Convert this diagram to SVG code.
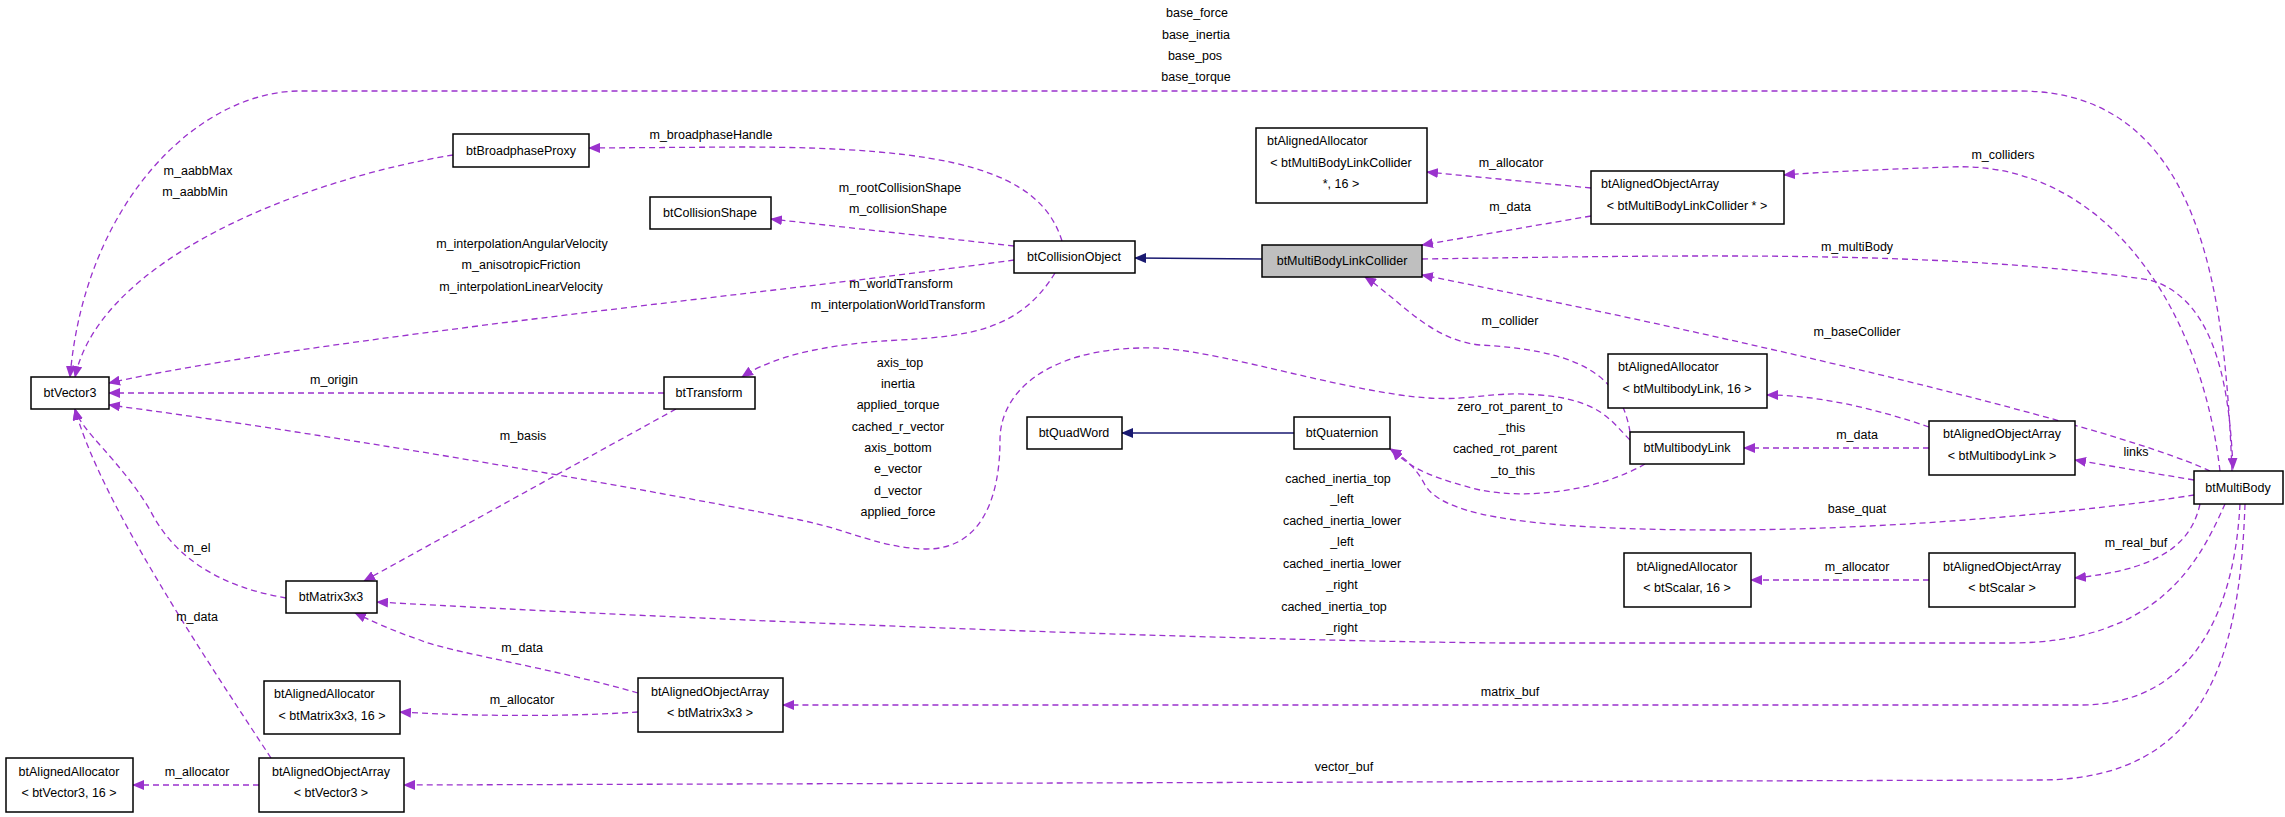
<svg xmlns="http://www.w3.org/2000/svg" width="2285" height="817" viewBox="0 0 2285 817">
<style>
text{font-family:"Liberation Sans",Arial,sans-serif;font-size:12.5px;fill:#000}
.c{text-anchor:middle}
.n rect{fill:#fff;stroke:#000;stroke-width:1.5}
.e{fill:none;stroke:#9a32cd;stroke-width:1.3;stroke-dasharray:6,4;marker-end:url(#ap)}
.s{fill:none;stroke:#191970;stroke-width:1.3;marker-end:url(#an)}
</style>
<defs>
<marker id="ap" markerWidth="12" markerHeight="10" refX="11" refY="5" orient="auto" markerUnits="userSpaceOnUse"><path d="M0,0L12,5L0,10z" fill="#9a32cd"/></marker>
<marker id="an" markerWidth="12" markerHeight="10" refX="11" refY="5" orient="auto" markerUnits="userSpaceOnUse"><path d="M0,0L12,5L0,10z" fill="#191970"/></marker>
</defs>
<rect width="2285" height="817" fill="#fff"/>
<g id="connectors">
<path class="e" d="M2232,471 C2225,300 2205,91 2020,91 L300,91 C200,91 85,200 70,377"/>
<path class="e" d="M453,155 C300,180 100,260 75,377"/>
<path class="e" d="M1062,241 C1040,170 950,147 740,147 L589,148"/>
<path class="e" d="M1014,246 L771,219"/>
<path class="e" d="M1014,260 C800,290 300,340 109,383"/>
<path class="e" d="M1055,273 C1020,330 970,336 900,340 C800,345 760,365 742,377"/>
<path class="e" d="M664,393 L109,393"/>
<path class="e" d="M676,409 L364,581"/>
<path class="e" d="M286,598 C240,590 180,570 150,510 C120,460 80,430 75,409"/>
<path class="e" d="M271,758 C200,650 100,500 75,409"/>
<path class="e" d="M259,785 L133,785"/>
<path class="e" d="M638,693 C560,670 440,650 420,640 C390,630 370,620 355,613"/>
<path class="e" d="M638,712 C550,718 450,715 400,712"/>
<path class="e" d="M1630,440 C1610,420 1600,400 1540,395 C1480,390 1470,405 1400,395 C1300,380 1200,345 1140,348 C1050,350 1000,390 1000,440 C1000,500 980,550 925,549 C880,548 850,530 800,520 C600,480 300,430 109,405"/>
<path class="s" d="M1294,433 L1122,433"/>
<path class="s" d="M1262,259 L1135,258"/>
<path class="e" d="M1645,464 C1600,490 1530,500 1480,490 C1440,480 1410,470 1392,449"/>
<path class="e" d="M2194,495 C2100,510 1900,530 1720,530 C1500,530 1440,510 1425,485 C1415,465 1400,455 1390,449"/>
<path class="e" d="M1630,432 C1620,370 1570,350 1480,345 C1430,340 1400,300 1365,277"/>
<path class="e" d="M1591,216 L1422,245"/>
<path class="e" d="M1591,188 L1427,172"/>
<path class="e" d="M2220,471 C2200,300 2100,160 1950,167 C1870,170 1820,172 1784,175"/>
<path class="e" d="M1422,259 C1700,255 1950,250 2150,280 C2220,300 2230,400 2233,469"/>
<path class="e" d="M2210,471 C2100,420 1700,330 1422,275"/>
<path class="e" d="M1929,448 L1744,448"/>
<path class="e" d="M1929,427 C1880,410 1820,395 1767,395"/>
<path class="e" d="M2194,480 L2075,460"/>
<path class="e" d="M2200,504 C2190,550 2150,570 2075,578"/>
<path class="e" d="M1929,580 L1751,580"/>
<path class="e" d="M2225,504 C2200,560 2160,643 2010,643 L1500,643 C1200,640 700,620 377,602"/>
<path class="e" d="M2240,504 C2235,600 2200,705 2080,705 L783,705"/>
<path class="e" d="M2245,504 C2240,650 2210,780 2040,780 L404,785"/>
</g>
<g id="labels">
<text class="c" x="1197" y="17">base_force</text>
<text class="c" x="1196" y="39">base_inertia</text>
<text class="c" x="1195" y="60">base_pos</text>
<text class="c" x="1196" y="81">base_torque</text>
<text class="c" x="711" y="139">m_broadphaseHandle</text>
<text class="c" x="198" y="175">m_aabbMax</text>
<text class="c" x="195" y="196">m_aabbMin</text>
<text class="c" x="900" y="192">m_rootCollisionShape</text>
<text class="c" x="898" y="213">m_collisionShape</text>
<text class="c" x="522" y="248">m_interpolationAngularVelocity</text>
<text class="c" x="521" y="269">m_anisotropicFriction</text>
<text class="c" x="521" y="291">m_interpolationLinearVelocity</text>
<text class="c" x="901" y="288">m_worldTransform</text>
<text class="c" x="898" y="309">m_interpolationWorldTransform</text>
<text class="c" x="334" y="384">m_origin</text>
<text class="c" x="900" y="367">axis_top</text>
<text class="c" x="898" y="388">inertia</text>
<text class="c" x="898" y="409">applied_torque</text>
<text class="c" x="898" y="431">cached_r_vector</text>
<text class="c" x="898" y="452">axis_bottom</text>
<text class="c" x="898" y="473">e_vector</text>
<text class="c" x="898" y="495">d_vector</text>
<text class="c" x="898" y="516">applied_force</text>
<text class="c" x="523" y="440">m_basis</text>
<text class="c" x="197" y="552">m_el</text>
<text class="c" x="197" y="621">m_data</text>
<text class="c" x="522" y="652">m_data</text>
<text class="c" x="522" y="704">m_allocator</text>
<text class="c" x="197" y="776">m_allocator</text>
<text class="c" x="1511" y="167">m_allocator</text>
<text class="c" x="1510" y="211">m_data</text>
<text class="c" x="2003" y="159">m_colliders</text>
<text class="c" x="1857" y="251">m_multiBody</text>
<text class="c" x="1510" y="325">m_collider</text>
<text class="c" x="1857" y="336">m_baseCollider</text>
<text class="c" x="1510" y="411">zero_rot_parent_to</text>
<text class="c" x="1512" y="432">_this</text>
<text class="c" x="1505" y="453">cached_rot_parent</text>
<text class="c" x="1513" y="475">_to_this</text>
<text class="c" x="1857" y="439">m_data</text>
<text class="c" x="2136" y="456">links</text>
<text class="c" x="1857" y="513">base_quat</text>
<text class="c" x="2136" y="547">m_real_buf</text>
<text class="c" x="1857" y="571">m_allocator</text>
<text class="c" x="1338" y="483">cached_inertia_top</text>
<text class="c" x="1342" y="503">_left</text>
<text class="c" x="1342" y="525">cached_inertia_lower</text>
<text class="c" x="1342" y="546">_left</text>
<text class="c" x="1342" y="568">cached_inertia_lower</text>
<text class="c" x="1342" y="589">_right</text>
<text class="c" x="1334" y="611">cached_inertia_top</text>
<text class="c" x="1342" y="632">_right</text>
<text class="c" x="1510" y="696">matrix_buf</text>
<text class="c" x="1344" y="771">vector_buf</text>
</g>
<g id="btVector3" class="n"><rect x="31" y="377" width="78" height="32"/><text class="c" x="70" y="397">btVector3</text></g>
<g id="btBroadphaseProxy" class="n"><rect x="453" y="134" width="136" height="33"/><text class="c" x="521" y="155">btBroadphaseProxy</text></g>
<g id="btCollisionShape" class="n"><rect x="650" y="197" width="121" height="32"/><text class="c" x="710" y="217">btCollisionShape</text></g>
<g id="btCollisionObject" class="n"><rect x="1014" y="241" width="121" height="32"/><text class="c" x="1074" y="261">btCollisionObject</text></g>
<g id="btTransform" class="n"><rect x="664" y="377" width="91" height="32"/><text class="c" x="709" y="397">btTransform</text></g>
<g id="btMatrix3x3" class="n"><rect x="286" y="581" width="91" height="32"/><text class="c" x="331" y="601">btMatrix3x3</text></g>
<g id="btQuadWord" class="n"><rect x="1027" y="417" width="95" height="32"/><text class="c" x="1074" y="437">btQuadWord</text></g>
<g id="btQuaternion" class="n"><rect x="1294" y="417" width="96" height="32"/><text class="c" x="1342" y="437">btQuaternion</text></g>
<g id="btMultiBodyLinkCollider" class="n"><rect x="1262" y="245" width="160" height="32" style="fill:#bfbfbf"/><text class="c" x="1342" y="265">btMultiBodyLinkCollider</text></g>
<g id="btAlignedAllocator_collider" class="n"><rect x="1256" y="128" width="171" height="75"/><text x="1267" y="145">btAlignedAllocator</text><text class="c" x="1341" y="167">&lt; btMultiBodyLinkCollider</text><text class="c" x="1341" y="188">*, 16 &gt;</text></g>
<g id="btAlignedObjectArray_collider" class="n"><rect x="1591" y="171" width="193" height="53"/><text x="1601" y="188">btAlignedObjectArray</text><text class="c" x="1687" y="210">&lt; btMultiBodyLinkCollider * &gt;</text></g>
<g id="btAlignedAllocator_link" class="n"><rect x="1608" y="354" width="159" height="54"/><text x="1618" y="371">btAlignedAllocator</text><text class="c" x="1687" y="393">&lt; btMultibodyLink, 16 &gt;</text></g>
<g id="btMultibodyLink" class="n"><rect x="1630" y="432" width="114" height="32"/><text class="c" x="1687" y="452">btMultibodyLink</text></g>
<g id="btAlignedObjectArray_link" class="n"><rect x="1929" y="421" width="146" height="54"/><text class="c" x="2002" y="438">btAlignedObjectArray</text><text class="c" x="2002" y="460">&lt; btMultibodyLink &gt;</text></g>
<g id="btMultiBody" class="n"><rect x="2194" y="471" width="89" height="33"/><text class="c" x="2238" y="492">btMultiBody</text></g>
<g id="btAlignedAllocator_scalar" class="n"><rect x="1624" y="553" width="127" height="54"/><text class="c" x="1687" y="571">btAlignedAllocator</text><text class="c" x="1687" y="592">&lt; btScalar, 16 &gt;</text></g>
<g id="btAlignedObjectArray_scalar" class="n"><rect x="1929" y="553" width="146" height="54"/><text class="c" x="2002" y="571">btAlignedObjectArray</text><text class="c" x="2002" y="592">&lt; btScalar &gt;</text></g>
<g id="btAlignedAllocator_matrix" class="n"><rect x="264" y="681" width="136" height="53"/><text x="274" y="698">btAlignedAllocator</text><text class="c" x="332" y="720">&lt; btMatrix3x3, 16 &gt;</text></g>
<g id="btAlignedObjectArray_matrix" class="n"><rect x="638" y="678" width="145" height="54"/><text class="c" x="710" y="696">btAlignedObjectArray</text><text class="c" x="710" y="717">&lt; btMatrix3x3 &gt;</text></g>
<g id="btAlignedAllocator_vector" class="n"><rect x="6" y="758" width="127" height="54"/><text class="c" x="69" y="776">btAlignedAllocator</text><text class="c" x="69" y="797">&lt; btVector3, 16 &gt;</text></g>
<g id="btAlignedObjectArray_vector" class="n"><rect x="259" y="758" width="145" height="54"/><text class="c" x="331" y="776">btAlignedObjectArray</text><text class="c" x="331" y="797">&lt; btVector3 &gt;</text></g>
</svg>
